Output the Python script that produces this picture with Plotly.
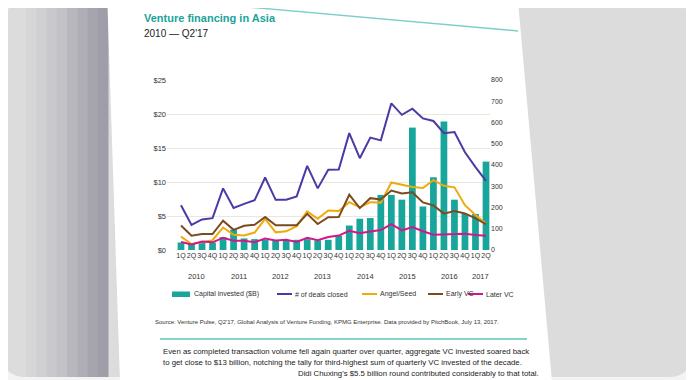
import plotly.graph_objects as go

# ---------------- data ----------------
quarters = ["1Q", "2Q", "3Q", "4Q"] * 7 + ["1Q", "2Q"]
years = ["2010", "2011", "2012", "2013", "2014", "2015", "2016", "2017"]
capital_invested = [1.1, 0.9, 1.1, 1.1, 1.9, 3.0, 1.7, 1.6,
                    1.5, 1.4, 1.4, 1.5, 1.6, 1.4, 1.5, 2.1,
                    3.6, 4.6, 4.7, 8.1, 8.1, 7.4, 18.0, 6.4,
                    10.7, 18.9, 7.4, 5.3, 5.3, 13.0]
deals_closed = [211, 118, 144, 150, 290, 198, 217, 234,
                341, 236, 237, 252, 396, 290, 378, 379,
                550, 432, 529, 516, 690, 636, 665, 619,
                607, 550, 555, 460, 390, 325]
angel_seed = [63, 28, 36, 46, 106, 72, 68, 82,
              146, 83, 88, 112, 182, 147, 186, 184,
              225, 200, 225, 223, 318, 308, 296, 292,
              329, 302, 295, 211, 165, 125]
early_vc = [115, 67, 75, 75, 138, 95, 114, 119,
            155, 116, 116, 117, 170, 122, 154, 155,
            260, 197, 244, 238, 280, 266, 272, 224,
            210, 171, 183, 172, 149, 122]
later_vc = [38, 26, 40, 36, 57, 44, 44, 37,
            54, 45, 48, 38, 57, 46, 61, 68,
            90, 79, 87, 94, 122, 92, 108, 88,
            72, 73, 76, 76, 71, 67]
left_ticks = [0, 5, 10, 15, 20, 25]
right_ticks = [0, 100, 200, 300, 400, 500, 600, 700, 800]
series_names = ["Capital invested ($B)", "# of deals closed", "Angel/Seed", "Early VC", "Later VC"]

# ---------------- geometry helpers ----------------
W, H = 694, 380
OFF = 8                                # the page body margin shifts the figure by 8 px
PL, PR, PT, PB = 167, 490, 80, 250     # wanted plot area, in screen px


def xp(px):
    return (px - PL) / (PR - PL)


def yp(py):
    return (PB - py) / (PB - PT)


idx = list(range(len(quarters)))
TEAL = "#17a59c"
PURPLE = "#4a3aa6"
GOLD = "#f0aa0a"
BROWN = "#7a4a20"
MAGENTA = "#d4168c"
FONT = "Liberation Sans, Arial, sans-serif"
line_series = [(series_names[1], deals_closed, PURPLE),
               (series_names[2], angel_seed, GOLD),
               (series_names[3], early_vc, BROWN),
               (series_names[4], later_vc, MAGENTA)]

fig = go.Figure()
fig.add_trace(go.Bar(x=idx, y=capital_invested, name=series_names[0],
                     marker=dict(color=TEAL, line=dict(width=0)), width=0.64,
                     yaxis="y", showlegend=False))
for name, vals, col in line_series:
    fig.add_trace(go.Scatter(x=idx, y=vals, name=name, mode="lines",
                             line=dict(color=col, width=2), yaxis="y2", showlegend=False))

shapes = []
# outer frame
shapes.append(dict(type="path", xref="paper", yref="paper", layer="below",
                   path=("M {a},{t} L {b},{t} Q {r},{t} {r},{t2} L {r},{b2} Q {r},{bt} {b},{bt} "
                         "L {a},{bt} Q {l},{bt} {l},{b2} L {l},{t2} Q {l},{t} {a},{t} Z").format(
                       a=xp(26), b=xp(668), t=yp(3), t2=yp(25), r=xp(691), b2=yp(355),
                       bt=yp(377), l=xp(3)),
                   fillcolor="#dcdcdc", line=dict(width=0)))
# left gradient band
grads = ["#d6d6d8", "#d0d0d3", "#c9c9cd", "#c1c1c6", "#b8b7be", "#afaeb6", "#a6a5ae", "#9f9da8"]
x0 = 26
step = (108 - 26) / len(grads)
for i, c in enumerate(grads):
    shapes.append(dict(type="rect", xref="paper", yref="paper", layer="below",
                       x0=xp(x0 + i * step), x1=xp(x0 + (i + 1) * step + 0.5),
                       y0=yp(3), y1=yp(377), fillcolor=c, line=dict(width=0)))
# white page
shapes.append(dict(type="path", xref="paper", yref="paper", layer="below",
                   path="M {},{} L {},{} L {},{} L {},{} Z".format(
                       xp(107), yp(-10), xp(517), yp(-10), xp(552), yp(382), xp(120), yp(382)),
                   fillcolor="#ffffff", line=dict(width=0)))
# teal rules
shapes.append(dict(type="line", xref="paper", yref="paper", layer="above",
                   x0=xp(168), y0=yp(0), x1=xp(518), y1=yp(31),
                   line=dict(color="#7ccfca", width=1.5)))
shapes.append(dict(type="line", xref="paper", yref="paper", layer="above",
                   x0=xp(160), y0=yp(339), x1=xp(527), y1=yp(339),
                   line=dict(color="#5cc3bd", width=1.5)))

annotations = []
annotations.append(dict(text="<b>Venture financing in Asia</b>", xref="paper", yref="paper",
                        x=xp(142), y=yp(18), xanchor="left", yanchor="middle", showarrow=False,
                        font=dict(family=FONT, size=11, color="#1aa39b")))
annotations.append(dict(text="2010 \u2014 Q2'17", xref="paper", yref="paper",
                        x=xp(142), y=yp(33), xanchor="left", yanchor="middle", showarrow=False,
                        font=dict(family=FONT, size=10, color="#222222")))
# year labels under the quarter labels
for k, yr in enumerate(years):
    members = [i for i in idx if i // 4 == k]
    annotations.append(dict(text=yr, xref="x", yref="paper",
                            x=sum(members) / len(members), y=yp(276),
                            xanchor="center", yanchor="middle", showarrow=False,
                            font=dict(family=FONT, size=7.5, color="#333333")))

# legend (drawn by hand so it keeps the reference's single-row spacing)
LEG_Y = 294
leg_pos = [172, 277, 362, 428, 468]
shapes.append(dict(type="rect", xref="paper", yref="paper", layer="above",
                   x0=xp(leg_pos[0]), x1=xp(leg_pos[0] + 18), y0=yp(LEG_Y - 2.5), y1=yp(LEG_Y + 3),
                   fillcolor=TEAL, line=dict(width=0)))
annotations.append(dict(text=series_names[0], xref="paper", yref="paper",
                        x=xp(leg_pos[0] + 20), y=yp(LEG_Y), xanchor="left", yanchor="middle",
                        showarrow=False, font=dict(family=FONT, size=7, color="#333333")))
for (name, _vals, col), lx in zip(line_series, leg_pos[1:]):
    shapes.append(dict(type="line", xref="paper", yref="paper", layer="above",
                       x0=xp(lx), x1=xp(lx + 15), y0=yp(LEG_Y), y1=yp(LEG_Y),
                       line=dict(color=col, width=2)))
    annotations.append(dict(text=name, xref="paper", yref="paper",
                            x=xp(lx + 16), y=yp(LEG_Y), xanchor="left", yanchor="middle",
                            showarrow=False, font=dict(family=FONT, size=7, color="#333333")))

annotations.append(dict(
    text="Source: Venture Pulse, Q2'17, Global Analysis of Venture Funding, KPMG Enterprise. "
         "Data provided by PitchBook, July 13, 2017.",
    xref="paper", yref="paper", x=xp(153), y=yp(322), xanchor="left", yanchor="middle",
    showarrow=False, font=dict(family=FONT, size=6, color="#333333")))
body = ["Even as completed transaction volume fell again quarter over quarter, aggregate VC invested soared back",
        "to get close to $13 billion, notching the tally for third-highest sum of quarterly VC invested of the decade.",
        "Didi Chuxing's $5.5 billion round contributed considerably to that total."]
for k, line in enumerate(body):
    annotations.append(dict(text=line, xref="paper", yref="paper",
                            x=xp(161 if k < 2 else 296), y=yp(351 + 11 * k),
                            xanchor="left", yanchor="middle", showarrow=False,
                            font=dict(family=FONT, size=7.8, color="#222222")))

fig.update_layout(
    width=W, height=H,
    margin=dict(l=PL - OFF, r=W - PR + OFF, t=PT - OFF, b=H - PB + OFF, pad=0),
    paper_bgcolor="#f3f3f3", plot_bgcolor="rgba(0,0,0,0)",
    font=dict(family=FONT, size=7, color="#333333"),
    showlegend=False,
    xaxis=dict(range=[-1.33, 29.38], tickmode="array", tickvals=idx, ticktext=quarters,
               tickangle=0, showgrid=False, zeroline=False, showline=False, ticks="",
               tickfont=dict(size=7, color="#333333"), fixedrange=True),
    yaxis=dict(range=[0, 25], tickmode="array", tickvals=left_ticks,
               ticktext=["$" + str(v) for v in left_ticks],
               showgrid=True, gridcolor="#e9e7df", gridwidth=1, zeroline=False,
               showline=False, ticks="", tickfont=dict(size=7.5, color="#333333")),
    yaxis2=dict(range=[0, 800], tickmode="array", tickvals=right_ticks, overlaying="y",
                side="right", showgrid=False, zeroline=False, showline=False, ticks="",
                tickfont=dict(size=7, color="#333333")),
    shapes=shapes, annotations=annotations,
)

fig.write_html("out.html")
